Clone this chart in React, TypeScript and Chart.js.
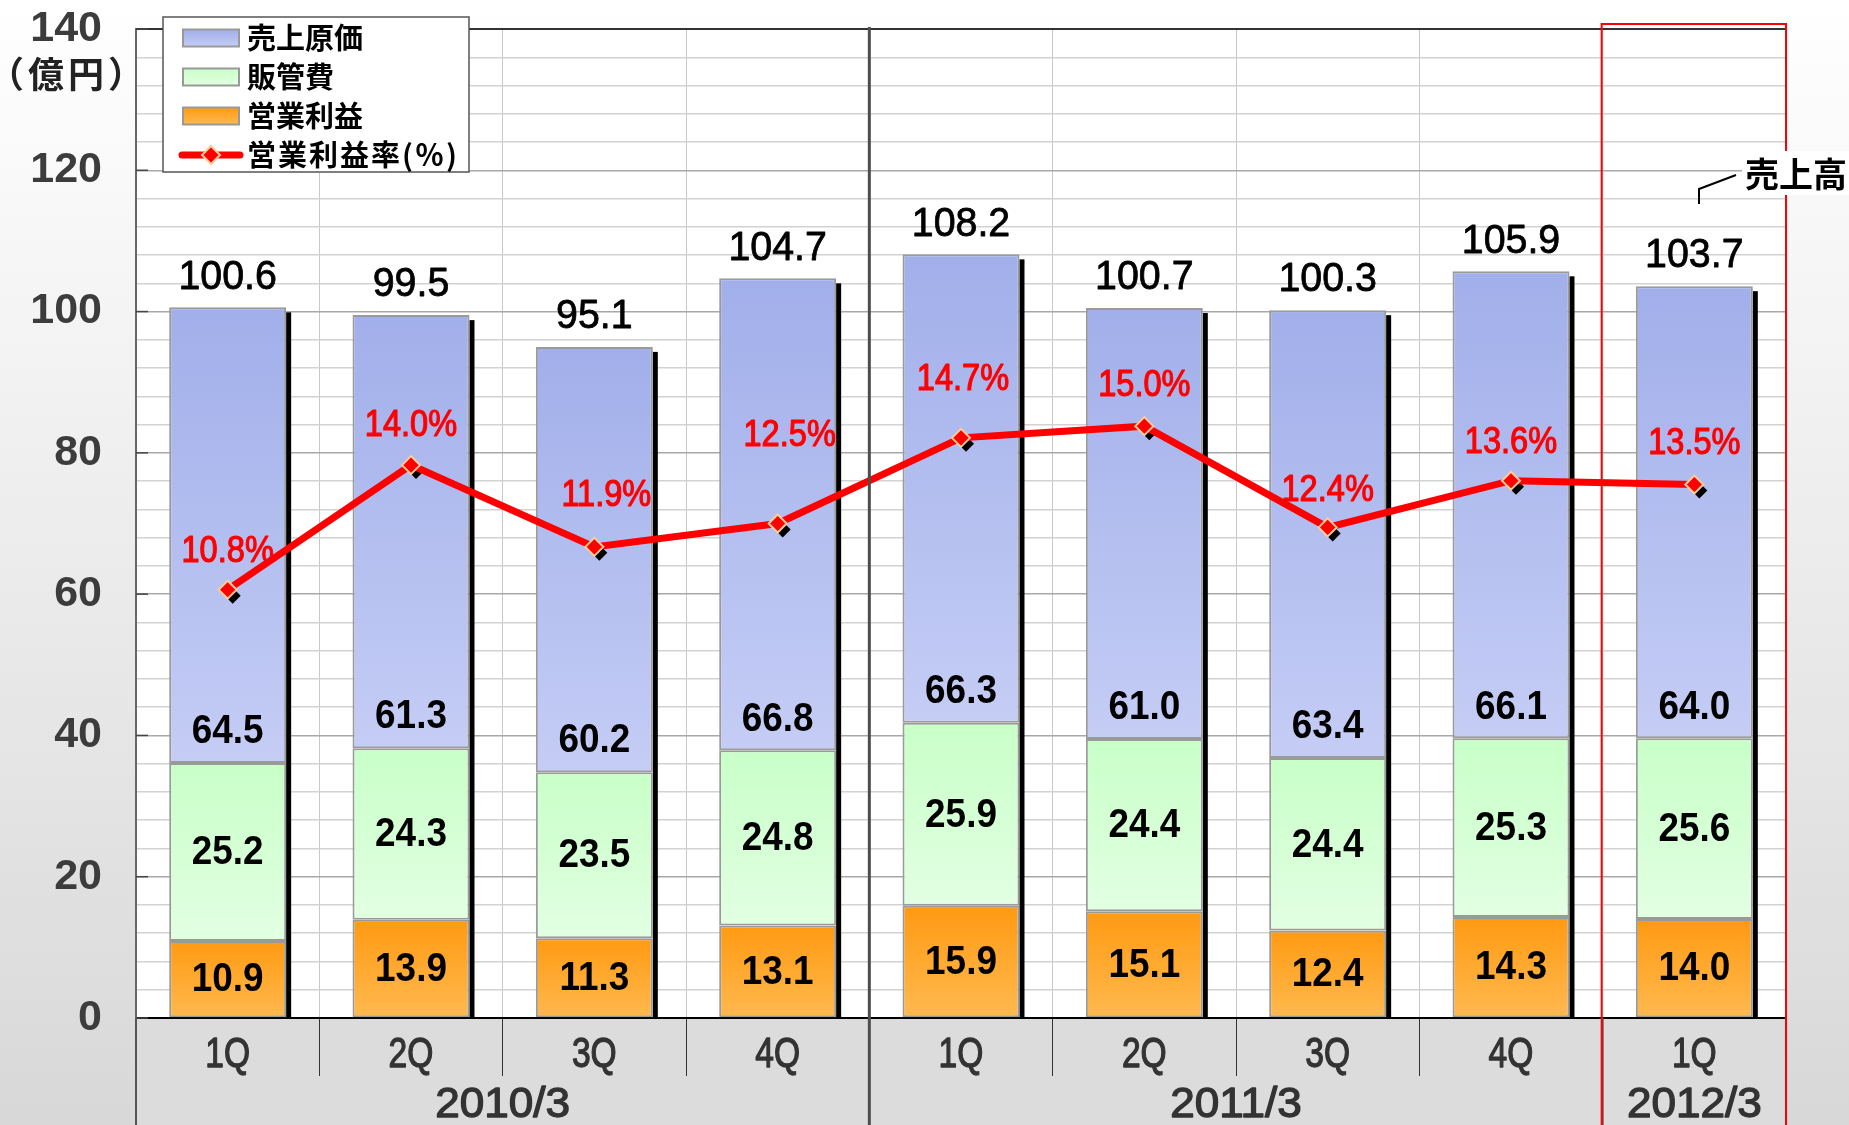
import React, { useEffect, useRef } from "react";
import { Chart, registerables } from "chart.js";

Chart.register(...registerables);

// ---- data ----
const quarters = ["1Q", "2Q", "3Q", "4Q", "1Q", "2Q", "3Q", "4Q", "1Q"];
const fiscalYears = ["2010/3", "2011/3", "2012/3"];
const fiscalYearSpans = [4, 4, 1];
const costOfSales = [64.5, 61.3, 60.2, 66.8, 66.3, 61.0, 63.4, 66.1, 64.0];
const sgaExpenses = [25.2, 24.3, 23.5, 24.8, 25.9, 24.4, 24.4, 25.3, 25.6];
const operatingProfit = [10.9, 13.9, 11.3, 13.1, 15.9, 15.1, 12.4, 14.3, 14.0];
const netSales = [100.6, 99.5, 95.1, 104.7, 108.2, 100.7, 100.3, 105.9, 103.7];
const operatingMargin = [10.8, 14.0, 11.9, 12.5, 14.7, 15.0, 12.4, 13.6, 13.5];
const yTickLabels = [0, 20, 40, 60, 80, 100, 120, 140];

// label placement tweaks for the margin labels (pixels above / right of point)
const marginLabelRise = [38, 39, 51, 88, 58, 40, 37, 38, 41];
const marginLabelShift = [0, 0, 12, 12, 2, 0, 0, 0, 0];

const W = 1849;
const H = 1125;

const COLORS = {
  cost: ["#a1afea", "#c5cdf5"],
  sga: ["#c8ffc8", "#e2ffe2"],
  op: ["#ff9a12", "#ffb94f"],
};

function txt(
  ctx: CanvasRenderingContext2D,
  s: string,
  x: number,
  y: number,
  font: string,
  color: string,
  sx = 1,
  align: CanvasTextAlign = "center",
  strokeW = 0
) {
  ctx.save();
  ctx.font = font;
  ctx.fillStyle = color;
  ctx.textAlign = align;
  ctx.textBaseline = "middle";
  ctx.translate(x, y);
  ctx.scale(sx, 1);
  ctx.fillText(s, 0, 0);
  if (strokeW > 0) {
    ctx.strokeStyle = color;
    ctx.lineWidth = strokeW;
    ctx.lineJoin = "round";
    ctx.strokeText(s, 0, 0);
  }
  ctx.restore();
}

function diamond(ctx: CanvasRenderingContext2D, x: number, y: number, r: number) {
  ctx.beginPath();
  ctx.moveTo(x, y - r);
  ctx.lineTo(x + r, y);
  ctx.lineTo(x, y + r);
  ctx.lineTo(x - r, y);
  ctx.closePath();
}

const stacks = [operatingProfit, sgaExpenses, costOfSales];
const stackColors = [COLORS.op, COLORS.sga, COLORS.cost];

function barGradient(dsIndex: number) {
  return (c: any) => {
    const chart = c.chart;
    const area = chart.chartArea;
    const ys = chart.scales && chart.scales.y;
    const cols = stackColors[dsIndex];
    if (!area || !ys || c.type !== "data") return cols[0];
    let base = 0;
    for (let k = 0; k < dsIndex; k++) base += stacks[k][c.dataIndex];
    const top = base + stacks[dsIndex][c.dataIndex];
    const y1 = ys.getPixelForValue(top);
    const y0 = ys.getPixelForValue(base);
    if (!isFinite(y1) || !isFinite(y0) || y0 === y1) return cols[0];
    const g = chart.ctx.createLinearGradient(0, y1, 0, y0);
    g.addColorStop(0, cols[0]);
    g.addColorStop(1, cols[1]);
    return g;
  };
}

const decorPlugin = {
  id: "decor",
  beforeDraw(chart: any) {
    const { ctx, chartArea: a } = chart;
    ctx.save();
    const g = ctx.createLinearGradient(0, 0, 0, H);
    g.addColorStop(0, "#ffffff");
    g.addColorStop(1, "#d8d8d8");
    ctx.fillStyle = g;
    ctx.fillRect(0, 0, W, H);
    ctx.fillStyle = "#dcdcdc";
    ctx.fillRect(a.left, a.bottom, a.right - a.left, H - a.bottom);
    ctx.fillStyle = "#ffffff";
    ctx.fillRect(a.left, a.top, a.right - a.left, a.bottom - a.top);
    ctx.restore();
  },
  beforeDatasetsDraw(chart: any) {
    const { ctx } = chart;
    const meta = chart.getDatasetMeta(2);
    const bottom = chart.scales.y.getPixelForValue(0);
    ctx.save();
    ctx.fillStyle = "#000000";
    meta.data.forEach((el: any) => {
      const right = el.x + el.width / 2;
      ctx.fillRect(right, el.y + 5, 5, bottom - el.y - 5);
    });
    ctx.restore();
  },
  beforeDatasetDraw(chart: any, args: any) {
    if (args.index !== 3) return;
    const { ctx } = chart;
    const meta = chart.getDatasetMeta(3);
    ctx.save();
    ctx.fillStyle = "#000000";
    meta.data.forEach((p: any) => {
      diamond(ctx, p.x + 5, p.y + 6, 8);
      ctx.fill();
    });
    ctx.restore();
  },
  afterDatasetsDraw(chart: any) {
    const { ctx } = chart;
    const ys = chart.scales.y;
    const segFont = "bold 41px 'Liberation Sans', Arial, sans-serif";
    const m0 = chart.getDatasetMeta(0);
    const m1 = chart.getDatasetMeta(1);
    const m2 = chart.getDatasetMeta(2);
    const ml = chart.getDatasetMeta(3);
    for (let i = 0; i < quarters.length; i++) {
      const e0 = m0.data[i];
      const e1 = m1.data[i];
      const e2 = m2.data[i];
      const x = e0.x;
      txt(ctx, operatingProfit[i].toFixed(1), x, (e0.y + e0.base) / 2 + 1, segFont, "#000", 0.9);
      txt(ctx, sgaExpenses[i].toFixed(1), x, (e1.y + e1.base) / 2 + 1, segFont, "#000", 0.9);
      const blueBottom = ys.getPixelForValue(operatingProfit[i] + sgaExpenses[i]);
      txt(ctx, costOfSales[i].toFixed(1), x, blueBottom - 31, segFont, "#000", 0.9);
      txt(ctx, netSales[i].toFixed(1), x, e2.y - 30, "41px 'Liberation Sans', Arial, sans-serif", "#000", 0.96, "center", 0.8);
      const p = ml.data[i];
      txt(
        ctx,
        operatingMargin[i].toFixed(1) + "%",
        p.x + marginLabelShift[i],
        p.y - marginLabelRise[i],
        "37px 'Liberation Sans', Arial, sans-serif",
        "#ff0000",
        0.88,
        "center",
        1.2
      );
    }
  },
  afterDraw(chart: any) {
    const { ctx, chartArea: a } = chart;
    const xs = chart.scales.x;
    const ys = chart.scales.y;
    const catW = (a.right - a.left) / quarters.length;

    ctx.save();
    ctx.strokeStyle = "#333";
    ctx.lineWidth = 2;
    ctx.beginPath();
    ctx.moveTo(a.left, a.top);
    ctx.lineTo(a.right, a.top);
    ctx.stroke();

    ctx.strokeStyle = "#444";
    ctx.lineWidth = 1.5;
    yTickLabels.forEach((v) => {
      const y = ys.getPixelForValue(v);
      ctx.beginPath();
      ctx.moveTo(a.left, y);
      ctx.lineTo(a.left + 12, y);
      ctx.stroke();
    });

    let idx = 0;
    const bounds: number[] = [a.left];
    fiscalYearSpans.forEach((s) => {
      idx += s;
      bounds.push(a.left + catW * idx);
    });
    ctx.strokeStyle = "#555";
    ctx.lineWidth = 2;
    [bounds[0], bounds[2]].forEach((bx) => {
      ctx.beginPath();
      ctx.moveTo(bx, a.bottom);
      ctx.lineTo(bx, H);
      ctx.stroke();
    });
    ctx.strokeStyle = "#4d4d4d";
    ctx.lineWidth = 3;
    ctx.beginPath();
    ctx.moveTo(bounds[1], a.top - 2);
    ctx.lineTo(bounds[1], H);
    ctx.stroke();

    const qFont = "42px 'Liberation Sans', Arial, sans-serif";
    quarters.forEach((q, i) => {
      txt(ctx, q, xs.getPixelForValue(i), 1055, qFont, "#333", 0.8, "center", 1.3);
    });
    fiscalYears.forEach((fy, k) => {
      const cx = (bounds[k] + bounds[k + 1]) / 2;
      txt(ctx, fy, cx, 1105, qFont, "#333", 1.05, "center", 1.3);
    });

    ctx.strokeStyle = "#ff0000";
    ctx.lineWidth = 2;
    ctx.beginPath();
    ctx.moveTo(bounds[2] - 1, H + 2);
    ctx.lineTo(bounds[2] - 1, 24);
    ctx.lineTo(a.right, 24);
    ctx.lineTo(a.right, H + 2);
    ctx.stroke();

    ctx.fillStyle = "#ffffff";
    ctx.fillRect(1742, 151, W - 1742, 44);
    txt(ctx, "売上高", 1745, 174, "bold 34px 'Noto Sans CJK JP', sans-serif", "#000", 1, "left");
    ctx.strokeStyle = "#000";
    ctx.lineWidth = 2;
    ctx.beginPath();
    ctx.moveTo(1699, 204);
    ctx.lineTo(1699, 189);
    ctx.lineTo(1736, 175);
    ctx.stroke();

    ctx.save();
    (ctx as any).letterSpacing = "4px";
    txt(ctx, "（億円）", 68, 74, "bold 36px 'Noto Sans CJK JP', sans-serif", "#222", 1);
    ctx.restore();

    const lx = 163, ly = 17, lw = 306, lh = 155;
    ctx.fillStyle = "#ffffff";
    ctx.fillRect(lx, ly, lw, lh);
    ctx.strokeStyle = "#555";
    ctx.lineWidth = 1.5;
    ctx.strokeRect(lx, ly, lw, lh);
    const items = [
      { label: "売上原価", cols: COLORS.cost },
      { label: "販管費", cols: COLORS.sga },
      { label: "営業利益", cols: COLORS.op },
    ];
    const rows = [38, 77, 116, 155];
    items.forEach((it, k) => {
      const cy = rows[k];
      const g = ctx.createLinearGradient(0, cy - 8.5, 0, cy + 8.5);
      g.addColorStop(0, it.cols[0]);
      g.addColorStop(1, it.cols[1]);
      ctx.fillStyle = g;
      ctx.fillRect(183, cy - 8.5, 56, 17);
      ctx.strokeStyle = "#999";
      ctx.lineWidth = 2;
      ctx.strokeRect(183, cy - 8.5, 56, 17);
      txt(ctx, it.label, 247, cy, "bold 29px 'Noto Sans CJK JP', sans-serif", "#000", 1, "left");
    });
    const cy = rows[3];
    ctx.strokeStyle = "#ff0000";
    ctx.lineWidth = 7;
    ctx.lineCap = "round";
    ctx.beginPath();
    ctx.moveTo(182, cy);
    ctx.lineTo(240, cy);
    ctx.stroke();
    ctx.lineCap = "butt";
    diamond(ctx, 211, cy, 9);
    ctx.fillStyle = "#ff0000";
    ctx.fill();
    ctx.strokeStyle = "#ffcc99";
    ctx.lineWidth = 2;
    ctx.stroke();
    ctx.save();
    (ctx as any).letterSpacing = "2px";
    txt(ctx, "営業利益率(％)", 247, cy, "bold 29px 'Noto Sans CJK JP', sans-serif", "#000", 1, "left");
    ctx.restore();
    ctx.restore();
  },
};

export default function App() {
  const ref = useRef<HTMLCanvasElement | null>(null);

  useEffect(() => {
    document.body.style.margin = "0";
    const canvas = ref.current;
    if (!canvas) return;
    const barCommon = {
      borderColor: "#9a9a9a",
      borderWidth: 2,
      borderSkipped: false as const,
      barPercentage: 0.638,
      categoryPercentage: 1,
      yAxisID: "y",
      order: 1,
    };
    const chart = new Chart(canvas, {
      type: "bar",
      data: {
        labels: quarters,
        datasets: [
          { ...barCommon, label: "営業利益", data: operatingProfit, backgroundColor: barGradient(0) },
          { ...barCommon, label: "販管費", data: sgaExpenses, backgroundColor: barGradient(1) },
          { ...barCommon, label: "売上原価", data: costOfSales, backgroundColor: barGradient(2) },
          {
            type: "line",
            label: "営業利益率(％)",
            data: operatingMargin,
            yAxisID: "y2",
            order: 0,
            borderColor: "#ff0000",
            borderWidth: 7,
            tension: 0,
            pointStyle: "rectRot",
            pointRadius: 9,
            pointHoverRadius: 9,
            pointBackgroundColor: "#ff0000",
            pointBorderColor: "#ffcc99",
            pointBorderWidth: 2,
          } as any,
        ],
      },
      options: {
        responsive: false,
        animation: false,
        devicePixelRatio: 1,
        layout: { padding: { left: 0, right: 63, top: 29, bottom: 0 } },
        plugins: {
          legend: { display: false },
          tooltip: { enabled: false },
        },
        scales: {
          x: {
            stacked: true,
            offset: true,
            grid: {
              offset: true,
              color: "#c8c8c8",
              lineWidth: 1,
              drawTicks: true,
              tickLength: 58,
              tickColor: "#333",
            },
            border: { display: true, color: "#000", width: 2 },
            ticks: { display: false },
            afterFit: (s: any) => {
              s.height = 107;
              s.paddingLeft = 0;
              s.paddingRight = 0;
            },
          },
          y: {
            stacked: true,
            min: 0,
            max: 140,
            position: "left",
            grid: {
              drawTicks: false,
              color: (c: any) => (c.tick && c.tick.value % 20 === 0 ? "#a8a8a8" : "#d2d2d2"),
              lineWidth: 1.5,
            },
            border: { display: true, color: "#666", width: 2 },
            ticks: {
              stepSize: 4,
              autoSkip: false,
              padding: 34,
              color: "#3c3c3c",
              font: { family: "'Liberation Sans', Arial, sans-serif", size: 43, weight: "bold" },
              callback: (v: any) => (yTickLabels.includes(Number(v)) ? String(v) : ""),
            },
            afterFit: (s: any) => {
              s.width = 136;
              s.paddingTop = 0;
              s.paddingBottom = 0;
            },
          },
          y2: {
            display: false,
            stacked: false,
            min: -0.2,
            max: 25.2,
          },
        },
      },
      plugins: [decorPlugin],
    });
    chart.update();
    return () => chart.destroy();
  }, []);

  return (
    <div style={{ width: W, height: H }}>
      <canvas ref={ref} width={W} height={H} style={{ display: "block", width: W, height: H }} />
    </div>
  );
}
